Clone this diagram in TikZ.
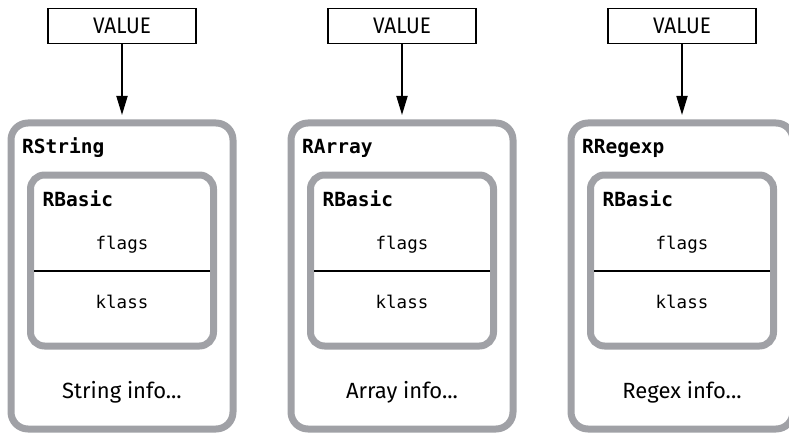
\documentclass[tikz,border=0pt]{standalone}
\usepackage{fontspec}
\setmonofont{DejaVu Sans Mono}
\newfontfamily\infofont{Fira Sans}
\newfontfamily\valuefont{Fira Sans}[FakeStretch=0.92]
\usetikzlibrary{arrows.meta,positioning}
\definecolor{boxgray}{RGB}{160,161,166}
\tikzset{
  valuebox/.style={draw=black, line width=1.5pt, minimum width=148pt, minimum height=35pt, inner sep=0pt, font=\valuefont\fontsize{22.5}{23}\selectfont},
  panel/.style={draw=boxgray, line width=7pt, rounded corners=17pt, minimum width=222pt, minimum height=306pt, inner sep=0pt},
  basic/.style={draw=boxgray, line width=7pt, rounded corners=14pt, minimum width=183pt, minimum height=171pt, inner sep=0pt},
  title/.style={anchor=base west, inner sep=0pt, font=\ttfamily\bfseries\fontsize{19.5}{20}\selectfont},
  field/.style={anchor=base, inner sep=0pt, font=\ttfamily\fontsize{17.5}{18}\selectfont},
  info/.style={anchor=base, inner sep=0pt, font=\infofont\fontsize{22}{22}\selectfont},
  divider/.style={line width=1.5pt, draw=black},
  flow/.style={-{Triangle[length=19pt,width=11pt]}, line width=1.8pt, draw=black, shorten >=4.5pt}
}

\begin{document}
\begin{tikzpicture}[x=1pt, y=-1pt]
  \useasboundingbox (0,0) rectangle (789,433);

  % RString
  \node[panel] (rstring) at (122,276) {};
  \node[valuebox, above=75pt of rstring] (val1) {VALUE};
  \node[basic, below=52pt of rstring.north] (basic1) {};
  \node[title] (title1) at ([shift={(14.5pt,-33.5pt)}]rstring.north west) {RString};
  \node[title] (btitle1) at ([shift={(15.5pt,-34.5pt)}]basic1.north west) {RBasic};
  \node[field] (flags1) at ([yshift=-77.5pt]basic1.north) {flags};
  \node[field] (klass1) at ([yshift=-136.5pt]basic1.north) {klass};
  \draw[divider] ([shift={(-88pt,-10.5pt)}]basic1.center) -- ([shift={(88pt,-10.5pt)}]basic1.center);
  \node[info] (info1) at ([yshift=34.5pt]rstring.south) {String info...};

  % RArray
  \node[panel] (rarray) at (402,276) {};
  \node[valuebox, above=75pt of rarray] (val2) {VALUE};
  \node[basic, below=52pt of rarray.north] (basic2) {};
  \node[title] (title2) at ([shift={(14.5pt,-33.5pt)}]rarray.north west) {RArray};
  \node[title] (btitle2) at ([shift={(15.5pt,-34.5pt)}]basic2.north west) {RBasic};
  \node[field] (flags2) at ([yshift=-77.5pt]basic2.north) {flags};
  \node[field] (klass2) at ([yshift=-136.5pt]basic2.north) {klass};
  \draw[divider] ([shift={(-88pt,-10.5pt)}]basic2.center) -- ([shift={(88pt,-10.5pt)}]basic2.center);
  \node[info] (info2) at ([yshift=34.5pt]rarray.south) {Array info...};

  % RRegexp
  \node[panel] (rregexp) at (682,276) {};
  \node[valuebox, above=75pt of rregexp] (val3) {VALUE};
  \node[basic, below=52pt of rregexp.north] (basic3) {};
  \node[title] (title3) at ([shift={(14.5pt,-33.5pt)}]rregexp.north west) {RRegexp};
  \node[title] (btitle3) at ([shift={(15.5pt,-34.5pt)}]basic3.north west) {RBasic};
  \node[field] (flags3) at ([yshift=-77.5pt]basic3.north) {flags};
  \node[field] (klass3) at ([yshift=-136.5pt]basic3.north) {klass};
  \draw[divider] ([shift={(-88pt,-10.5pt)}]basic3.center) -- ([shift={(88pt,-10.5pt)}]basic3.center);
  \node[info] (info3) at ([yshift=34.5pt]rregexp.south) {Regex info...};

  \draw[flow] (val1) -- (rstring);
  \draw[flow] (val2) -- (rarray);
  \draw[flow] (val3) -- (rregexp);
\end{tikzpicture}
\end{document}
